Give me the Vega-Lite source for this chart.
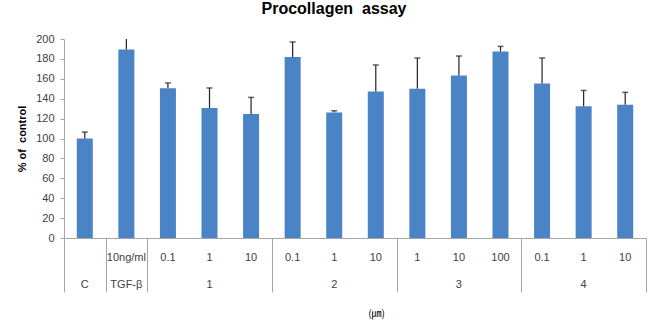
{
  "$schema": "https://vega.github.io/schema/vega-lite/v6.json",
  "width": 582,
  "height": 199,
  "autosize": "none",
  "padding": {"left": 64, "top": 39, "right": 5, "bottom": 84},
  "background": "white",
  "title": {"text": "Procollagen\u00a0\u00a0assay", "font": "Liberation Sans", "fontSize": 16, "fontWeight": "bold", "color": "#000000", "anchor": "middle", "dx": -21, "offset": 16},
  "config": {"view": {"stroke": null}, "axis": {"grid": false}},
  "data": {"values": [
    {"id": "C|", "v": 100, "err": 106.5},
    {"id": "TGF-β|10ng/ml", "v": 189.5, "err": 205},
    {"id": "1|0.1", "v": 150.4, "err": 155.8},
    {"id": "1|1", "v": 130.7, "err": 150.8},
    {"id": "1|10", "v": 124.6, "err": 141.3},
    {"id": "2|0.1", "v": 182, "err": 197},
    {"id": "2|1", "v": 126.2, "err": 127.9},
    {"id": "2|10", "v": 147.3, "err": 173.9},
    {"id": "3|1", "v": 150, "err": 180.9},
    {"id": "3|10", "v": 163.4, "err": 182.9},
    {"id": "3|100", "v": 187.5, "err": 192.6},
    {"id": "4|0.1", "v": 155.4, "err": 180.9},
    {"id": "4|1", "v": 132.3, "err": 148.3},
    {"id": "4|10", "v": 134, "err": 146.4}
  ]},
  "resolve": {"axis": {"x": "independent"}},
  "layer": [
    {
      "mark": {"type": "bar", "color": "#4a84c6", "width": {"band": 0.385}},
      "encoding": {
        "x": {"field": "id", "type": "nominal", "sort": null,
          "scale": {"paddingInner": 0, "paddingOuter": 0},
          "axis": {"orient": "bottom", "title": null, "labelAngle": 0, "ticks": false, "domain": true, "domainColor": "#a6a6a6",
            "labelExpr": "split(datum.value, '|')[1]", "labelFont": "Liberation Sans", "labelFontSize": 11, "labelColor": "#404040", "labelPadding": 13, "labelOverlap": false}},
        "y": {"field": "v", "type": "quantitative", "scale": {"domain": [0, 200], "nice": false},
          "axis": {"title": "% of\u00a0\u00a0control", "titleFont": "Liberation Sans", "titleFontSize": 11, "titleFontWeight": "bold", "titleColor": "#000000", "titlePadding": 8,
            "values": [0, 20, 40, 60, 80, 100, 120, 140, 160, 180, 200], "labelOverlap": false, "labelFont": "Liberation Sans", "labelFontSize": 11, "labelColor": "#404040", "labelPadding": 6,
            "tickSize": 4, "tickColor": "#a6a6a6", "domainColor": "#a6a6a6"}}
      }
    },
    {
      "mark": {"type": "rule", "color": "#222222", "strokeWidth": 1.2, "clip": true},
      "encoding": {
        "x": {"field": "id", "type": "nominal", "sort": null,
          "axis": {"orient": "bottom", "title": null, "labels": false, "domain": false, "tickBand": "extent", "tickSize": 54, "tickColor": "#a6a6a6",
            "values": ["C|", "TGF-β|10ng/ml", "1|10", "2|10", "3|100", "4|10"]}},
        "y": {"field": "v", "type": "quantitative",
          "axis": {"title": "% of\u00a0\u00a0control", "titleFont": "Liberation Sans", "titleFontSize": 11, "titleFontWeight": "bold", "titleColor": "#000000", "titlePadding": 8,
            "values": [0, 20, 40, 60, 80, 100, 120, 140, 160, 180, 200], "labelOverlap": false, "labelFont": "Liberation Sans", "labelFontSize": 11, "labelColor": "#404040", "labelPadding": 6,
            "tickSize": 4, "tickColor": "#a6a6a6", "domainColor": "#a6a6a6"}},
        "y2": {"field": "err"}
      }
    },
    {
      "mark": {"type": "tick", "color": "#222222", "size": 6, "thickness": 1.5, "clip": true},
      "encoding": {
        "x": {"field": "id", "type": "nominal", "sort": null,
          "axis": {"orient": "bottom", "ticks": false, "domain": false, "labelAngle": 0, "labelOverlap": false,
            "values": ["C|", "TGF-β|10ng/ml", "1|1", "2|1", "3|10", "4|1"],
            "labelExpr": "split(datum.value, '|')[0]", "labelFont": "Liberation Sans", "labelFontSize": 11, "labelColor": "#404040", "labelPadding": 40,
            "title": "(㎛)", "titleFont": "Noto Sans CJK KR", "titleFontSize": 10, "titleFontWeight": "normal", "titleColor": "#000000", "titleX": 312, "titleY": 75, "titleBaseline": "middle", "titleAnchor": "middle"}},
        "y": {"field": "err", "type": "quantitative",
          "axis": {"title": "% of\u00a0\u00a0control", "titleFont": "Liberation Sans", "titleFontSize": 11, "titleFontWeight": "bold", "titleColor": "#000000", "titlePadding": 8,
            "values": [0, 20, 40, 60, 80, 100, 120, 140, 160, 180, 200], "labelOverlap": false, "labelFont": "Liberation Sans", "labelFontSize": 11, "labelColor": "#404040", "labelPadding": 6,
            "tickSize": 4, "tickColor": "#a6a6a6", "domainColor": "#a6a6a6"}}
      }
    }
  ]
}
